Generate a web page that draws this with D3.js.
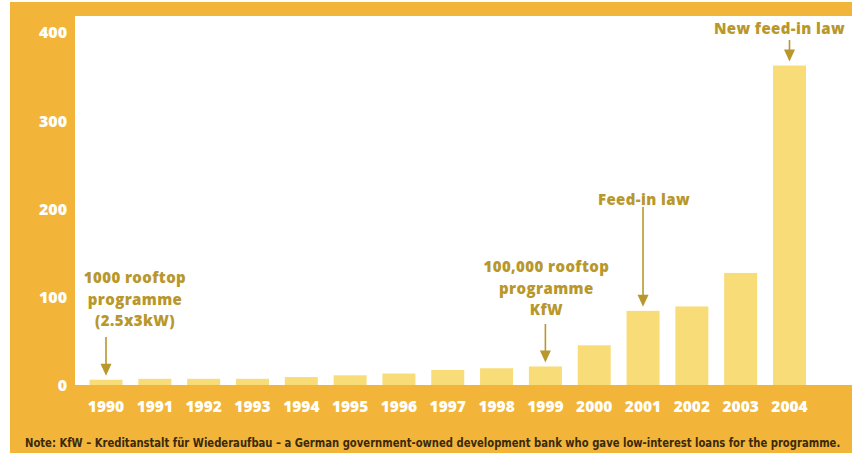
<!DOCTYPE html>
<html>
<head>
<meta charset="utf-8">
<script src="https://cdn.jsdelivr.net/npm/d3@7"></script>
<style>
  html, body { margin: 0; padding: 0; background: #ffffff; }
  svg { display: block; }
</style>
</head>
<body>
<svg id="chart" width="852" height="453"></svg>
<script>
// Annual PV capacity installed in Germany (MW), 1990–2004
const years = ["1990","1991","1992","1993","1994","1995","1996","1997","1998","1999","2000","2001","2002","2003","2004"];
const values = [6, 7, 7, 7, 9, 11, 13, 17, 19, 21, 45, 84, 89, 127, 362];
const yTicks = [0, 100, 200, 300, 400];

// Policy milestones pointed at by arrows
const milestones = [
  { year: "1990", lines: ["1000 rooftop", "programme", "(2.5x3kW)"], dx: 29, textTop: 278, arrowFrom: 337 },
  { year: "1999", lines: ["100,000 rooftop", "programme", "KfW"], dx: 1, textTop: 267, arrowFrom: 324 },
  { year: "2001", lines: ["Feed-in law"], dx: 1, textTop: 200, arrowFrom: 207 },
  { year: "2004", lines: ["New feed-in law"], dx: -10, textTop: 29, arrowFrom: 40 }
];

const note = "Note: KfW \u2013 Kreditanstalt f\u00fcr Wiederaufbau \u2013 a German government-owned development bank who gave low-interest loans for the programme.";

const W = 852, H = 453;
const gold = "#f2b53a";
const barFill = "#f8dc78";
const inkGold = "#b8982c";

const svg = d3.select("#chart");

// Frame: gold panel with a white plot window
svg.append("rect").attr("x", 10).attr("y", 2).attr("width", W - 10).attr("height", H - 2).attr("fill", gold);
const plot = { left: 75, top: 16, right: W, bottom: 385 };
svg.append("rect")
  .attr("x", plot.left).attr("y", plot.top)
  .attr("width", plot.right - plot.left).attr("height", plot.bottom - plot.top)
  .attr("fill", "#ffffff");

const x = d3.scaleBand().domain(years).range([81.6, 813.9]).paddingInner(0.324).paddingOuter(0.162);
const y = d3.scaleLinear().domain([0, 400]).range([385, 32]);

// Bars
svg.append("g").selectAll("rect")
  .data(years.map((yr, i) => ({ yr, v: values[i] })))
  .join("rect")
  .attr("x", d => x(d.yr))
  .attr("width", x.bandwidth())
  .attr("y", d => y(d.v))
  .attr("height", d => y(0) - y(d.v))
  .attr("fill", barFill);

const labelFont = "'Open Sans', 'DejaVu Sans', sans-serif";

// Value axis
const yAxis = d3.axisLeft(y).tickValues(yTicks).tickSize(0).tickPadding(0);
const gy = svg.append("g").attr("transform", "translate(67,0)").call(yAxis);
gy.select(".domain").remove();
gy.selectAll("text")
  .attr("fill", "#ffffff").attr("font-family", labelFont).attr("font-weight", 800)
  .attr("font-size", 16).attr("dy", "0.36em");

// Year axis
const xAxis = d3.axisBottom(x).tickSize(0).tickPadding(0);
const gx = svg.append("g").attr("transform", "translate(0,406)").call(xAxis);
gx.select(".domain").remove();
gx.selectAll("text")
  .attr("fill", "#ffffff").attr("font-family", labelFont).attr("font-weight", 800)
  .attr("font-size", 15.5).attr("dy", "0.36em");

// Milestone annotations with arrows
const ann = svg.append("g");
milestones.forEach(m => {
  const cx = x(m.year) + x.bandwidth() / 2;
  const v = values[years.indexOf(m.year)];
  const tipY = y(v) - 4;
  const t = ann.append("text")
    .attr("text-anchor", "middle")
    .attr("fill", inkGold).attr("font-family", labelFont).attr("font-weight", 800)
    .attr("font-size", 15).attr("letter-spacing", 0.4);
  m.lines.forEach((ln, i) => {
    t.append("tspan").attr("x", cx + m.dx).attr("y", m.textTop + i * 21.5).attr("dy", "0.36em").text(ln);
  });
  ann.append("line")
    .attr("x1", cx).attr("x2", cx)
    .attr("y1", m.arrowFrom).attr("y2", tipY - 10)
    .attr("stroke", inkGold).attr("stroke-width", 1.6);
  ann.append("path")
    .attr("d", `M${cx - 5.5},${tipY - 12} L${cx + 5.5},${tipY - 12} L${cx},${tipY} Z`)
    .attr("fill", inkGold);
});

// Footnote, squeezed horizontally to fit the panel width
const noteG = svg.append("g");
const noteText = noteG.append("text")
  .attr("x", 0).attr("y", 0).attr("dy", "0.36em")
  .attr("fill", "#3a2a0c")
  .attr("font-family", "'Liberation Sans Narrow', 'DejaVu Sans Condensed', sans-serif")
  .attr("font-weight", 700).attr("font-size", 12.5)
  .text(note);
const natural = noteText.node().getComputedTextLength();
const sx = Math.min(1, 816 / natural);
noteG.attr("transform", `translate(25,442) scale(${sx},1)`);
</script>
</body>
</html>
